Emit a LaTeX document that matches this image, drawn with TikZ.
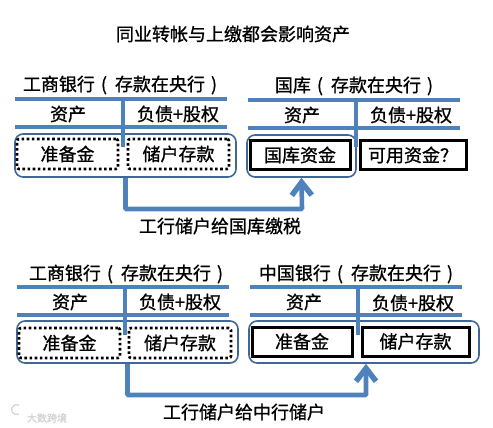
\documentclass[tikz,border=0pt]{standalone}
\usepackage{fontspec}
\setmainfont{Noto Sans CJK SC}[FakeBold=1]
\usetikzlibrary{arrows.meta}
\definecolor{ruleblue}{HTML}{4F81BD}
\definecolor{edgeblue}{HTML}{3F6797}
\newcommand{\lparen}{\hspace{6pt}(\hspace{8pt}}
\newcommand{\rparen}{\hspace{6pt})\hspace{3pt}}
\tikzset{
  rulebar/.style={ruleblue, line width=4.6pt},
  label/.style={font=\fontsize{18}{20}\selectfont, inner sep=0pt},
  wrapbox/.style={draw=edgeblue, line width=1.6pt, rounded corners=8pt, inner sep=0pt},
  dotbox/.style={draw=black, line width=2.6pt, dash pattern=on 2.6pt off 2.5pt, rounded corners=2pt, inner sep=0pt, font=\fontsize{18}{20}\selectfont},
  solidbox/.style={draw=black, line width=3pt, inner sep=0pt, font=\fontsize{18}{20}\selectfont},
  flow/.style={ruleblue, line width=4.6pt, rounded corners=1pt, -{Straight Barb[length=13pt,width=20pt,line width=5.5pt]}},
  faint/.style={gray!35, font=\fontsize{10}{10}\selectfont, inner sep=0pt},
}
\begin{document}
\begin{tikzpicture}[x=1pt,y=-1pt]
  \useasboundingbox (0,0) rectangle (493,428);

  \node[label] (title) at (233,34) {同业转帐与上缴都会影响资产};

  % top left
  \node[wrapbox, minimum width=221pt, minimum height=43pt] (wrapa) at (125.5,155.5) {};
  \draw[rulebar] (15,99) -- (227,99);
  \draw[rulebar] (15,127) -- (227,127);
  \draw[rulebar] (123,99) -- (123,147);
  \node[label] (heada) at (120,85) {工商银行\lparen 存款在央行\rparen};
  \node[label] (assetsa) at (68,114) {资产};
  \node[label] (debta) at (178,114) {负债+股权};
  \node[dotbox, minimum width=101pt, minimum height=30pt] (resa) at (67.5,154) {准备金};
  \node[dotbox, minimum width=101pt, minimum height=30pt] (depa) at (178.5,154) {储户存款};

  % top right
  \node[wrapbox, minimum width=109pt, minimum height=42pt] (wrapb) at (301.5,156) {};
  \draw[rulebar] (248,100) -- (460,100);
  \draw[rulebar] (248,128) -- (460,128);
  \draw[rulebar] (356,100) -- (356,147);
  \node[label] (headb) at (354,86) {国库\lparen 存款在央行\rparen};
  \node[label] (assetsb) at (302,115) {资产};
  \node[label] (debtb) at (411,115) {负债+股权};
  \node[solidbox, minimum width=100pt, minimum height=29pt] (fundb) at (300,155) {国库资金};
  \node[solidbox, minimum width=106pt, minimum height=29pt] (freeb) at (413,155) {可用资金？};

  % bottom left
  \node[wrapbox, minimum width=221pt, minimum height=42pt] (wrapc) at (127.5,342) {};
  \draw[rulebar] (17,287) -- (229,287);
  \draw[rulebar] (17,315) -- (229,315);
  \draw[rulebar] (125,287) -- (125,335);
  \node[label] (headc) at (126,274) {工商银行\lparen 存款在央行\rparen};
  \node[label] (assetsc) at (70,302) {资产};
  \node[label] (debtc) at (180,302) {负债+股权};
  \node[dotbox, minimum width=101pt, minimum height=30pt] (resc) at (69.5,343) {准备金};
  \node[dotbox, minimum width=102pt, minimum height=30pt] (depc) at (180,343) {储户存款};

  % bottom right
  \node[wrapbox, minimum width=230pt, minimum height=42pt] (wrapd) at (364,342) {};
  \draw[rulebar] (250,287) -- (462,287);
  \draw[rulebar] (250,315) -- (462,315);
  \draw[rulebar] (358,287) -- (358,335);
  \node[label] (headd) at (356,274) {中国银行\lparen 存款在央行\rparen};
  \node[label] (assetsd) at (304,302) {资产};
  \node[label] (debtd) at (413,303) {负债+股权};
  \node[solidbox, minimum width=100pt, minimum height=29pt] (resd) at (302,341.5) {准备金};
  \node[solidbox, minimum width=107pt, minimum height=29pt] (depd) at (415.5,341.5) {储户存款};

  % transfers
  \draw[flow] (wrapa.south) |- (302,209) -- (wrapb.south);
  \draw[flow] (wrapc.south) |- (366,395) -- ([xshift=2pt]wrapd.south);
  \node[label] (taxlabel) at (220,226) {工行储户给国库缴税};
  \node[label] (paylabel) at (244,412) {工行储户给中行储户};

  % watermark
  \draw[gray!35, line width=1.2pt] (19,414) arc (60:300:5);
  \node[faint] (mark) at (47,418) {大数跨境};
\end{tikzpicture}
\end{document}
